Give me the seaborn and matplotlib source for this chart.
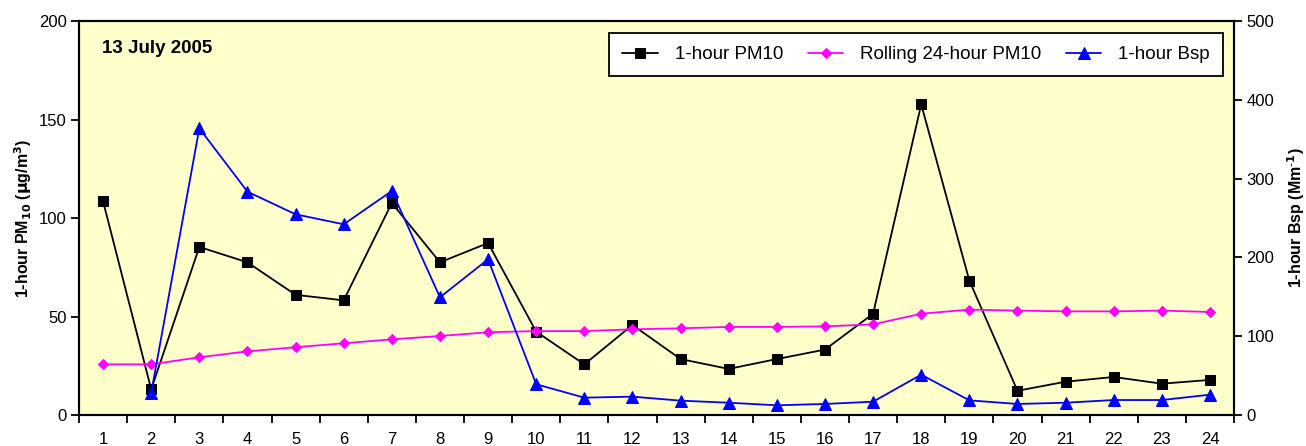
import numpy as np
import pandas as pd
import matplotlib
matplotlib.use("Agg")
import matplotlib.pyplot as plt
from matplotlib.ticker import FixedLocator, NullFormatter
import seaborn as sns

# Hourly readings for the day
hours = list(range(1, 25))
pm10_1h = [108.5, 13.0, 85.3, 77.5, 61.0, 58.2, 107.6, 77.5, 87.3, 42.3, 25.7, 45.7,
           28.4, 23.4, 28.4, 33.2, 51.4, 157.7, 68.2, 12.3, 16.9, 19.3, 15.9, 17.8]
pm10_24h = [25.7, 25.7, 29.3, 32.3, 34.4, 36.4, 38.4, 40.1, 42.0, 42.6, 42.6, 43.5,
            44.0, 44.7, 44.7, 45.0, 46.0, 51.4, 53.5, 53.0, 52.6, 52.6, 53.0, 52.3]
bsp_1h = [np.nan, 28.3, 363.8, 283.4, 254.7, 242.0, 284.3, 149.4, 197.6, 39.0, 22.0, 23.3,
          18.2, 15.6, 12.3, 14.0, 16.9, 51.2, 18.6, 14.0, 15.6, 19.0, 19.0, 25.8]

df = pd.DataFrame({"hour": hours, "pm10": pm10_1h, "roll": pm10_24h, "bsp": bsp_1h})

sns.set_style("ticks", {"text.color": "black", "axes.labelcolor": "black",
                        "xtick.color": "black", "ytick.color": "black",
                        "axes.edgecolor": "black"})
plt.rcParams["font.family"] = ["Liberation Sans", "DejaVu Sans"]

fig = plt.figure(figsize=(13.06, 4.46), dpi=100)
ax = fig.add_axes([0.0605, 0.0695, 0.8844, 0.8834])
ax.set_facecolor("#FFFFCC")
ax2 = ax.twinx()

sns.lineplot(data=df, x="hour", y="pm10", ax=ax, color="black", marker="s",
             markersize=7, markeredgecolor="black", linewidth=1.3, label="1-hour PM10",
             legend=False)
sns.lineplot(data=df, x="hour", y="roll", ax=ax, color="#FF00FF", marker="D",
             markersize=5, markeredgecolor="#FF00FF", linewidth=1.3,
             label="Rolling 24-hour PM10", legend=False)
sns.lineplot(data=df.dropna(), x="hour", y="bsp", ax=ax2, color="#0000FF", marker="^",
             markersize=8, markeredgecolor="#0000FF", linewidth=1.3, label="1-hour Bsp",
             legend=False)

ax.set_xlim(0.5, 24.5)
ax.set_ylim(0, 200)
ax2.set_ylim(0, 500)
ax.set_yticks([0, 50, 100, 150, 200])
ax2.set_yticks([0, 100, 200, 300, 400, 500])

# category-style axis: labels at centres, tick marks at boundaries
ax.set_xticks(hours)
ax.set_xticklabels([str(h) for h in hours])
ax.xaxis.set_minor_locator(FixedLocator(np.arange(0.5, 25, 1)))
ax.xaxis.set_minor_formatter(NullFormatter())
ax.tick_params(axis="x", which="major", length=0, pad=12, labelsize=12)
ax.tick_params(axis="x", which="minor", length=6, width=1.3, direction="out")
ax.tick_params(axis="y", length=6, width=1.3, labelsize=12, pad=3)
ax2.tick_params(axis="y", length=6, width=1.3, labelsize=12, pad=3)

ax.set_xlabel("")
ax.set_ylabel(r"1-hour PM$_{\mathbf{10}}$ ($\mathbf{\mu}$g/m$^{\mathbf{3}}$)",
              fontsize=11.5, fontweight="bold", labelpad=3)
ax2.set_ylabel(r"1-hour Bsp (Mm$^{\mathbf{\text{-}1}}$)", fontsize=11.5,
               fontweight="bold", labelpad=8)

for a in (ax, ax2):
    for s in a.spines.values():
        s.set_linewidth(1.5)
        s.set_color("black")

ax.text(0.02, 0.93, "13 July 2005", transform=ax.transAxes, fontsize=13.5,
        fontweight="bold", ha="left", va="center", color="black")

h1, l1 = ax.get_legend_handles_labels()
h2, l2 = ax2.get_legend_handles_labels()
leg = ax2.legend(h1 + h2, l1 + l2, loc="upper right", bbox_to_anchor=(0.9905, 0.9695),
                 borderaxespad=0, ncol=3, fontsize=13.5, frameon=True, fancybox=False,
                 edgecolor="black", framealpha=1, handlelength=1.9, columnspacing=1.3,
                 borderpad=0.7, handletextpad=0.9)
leg.get_frame().set_linewidth(1.3)

fig.savefig("out.png", dpi=100)
